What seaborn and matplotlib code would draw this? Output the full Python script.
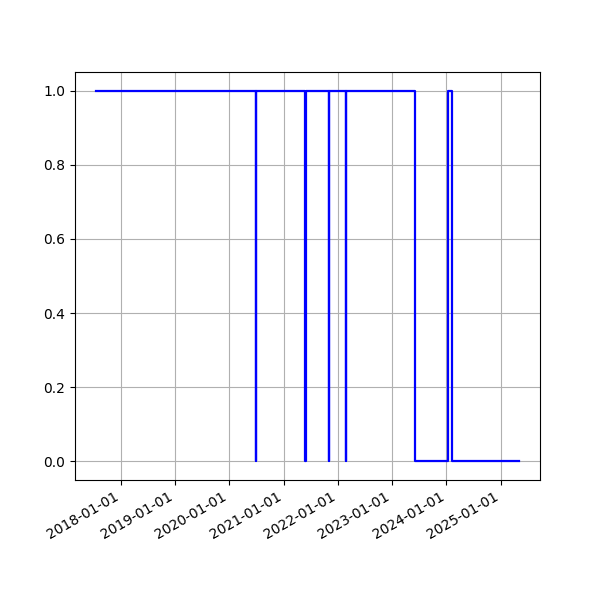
import matplotlib
matplotlib.use("Agg")
import matplotlib.pyplot as plt
import matplotlib.dates as mdates
import pandas as pd
import seaborn as sns

dates = [
    "2017-07-19", "2020-06-28", "2020-06-29", "2021-05-28", "2021-05-29",
    "2021-11-01", "2021-11-02", "2022-02-26", "2022-02-27", "2023-06-05",
    "2024-01-11", "2024-02-07", "2025-05-03",
]
values = [1, 0, 1, 0, 1, 0, 1, 0, 1, 0, 1, 0, 0]

df = pd.DataFrame({"date": pd.to_datetime(dates), "value": values})

fig, ax = plt.subplots(figsize=(6, 6), dpi=100)
sns.lineplot(data=df, x="date", y="value", ax=ax, color="blue",
             linewidth=1.6, drawstyle="steps-post", estimator=None)
ax.set_xlabel("")
ax.set_ylabel("")
ax.xaxis.set_major_locator(mdates.YearLocator())
ax.xaxis.set_major_formatter(mdates.DateFormatter("%Y-%m-%d"))
ax.grid(True)
fig.autofmt_xdate()
fig.savefig("out.png", dpi=100)
